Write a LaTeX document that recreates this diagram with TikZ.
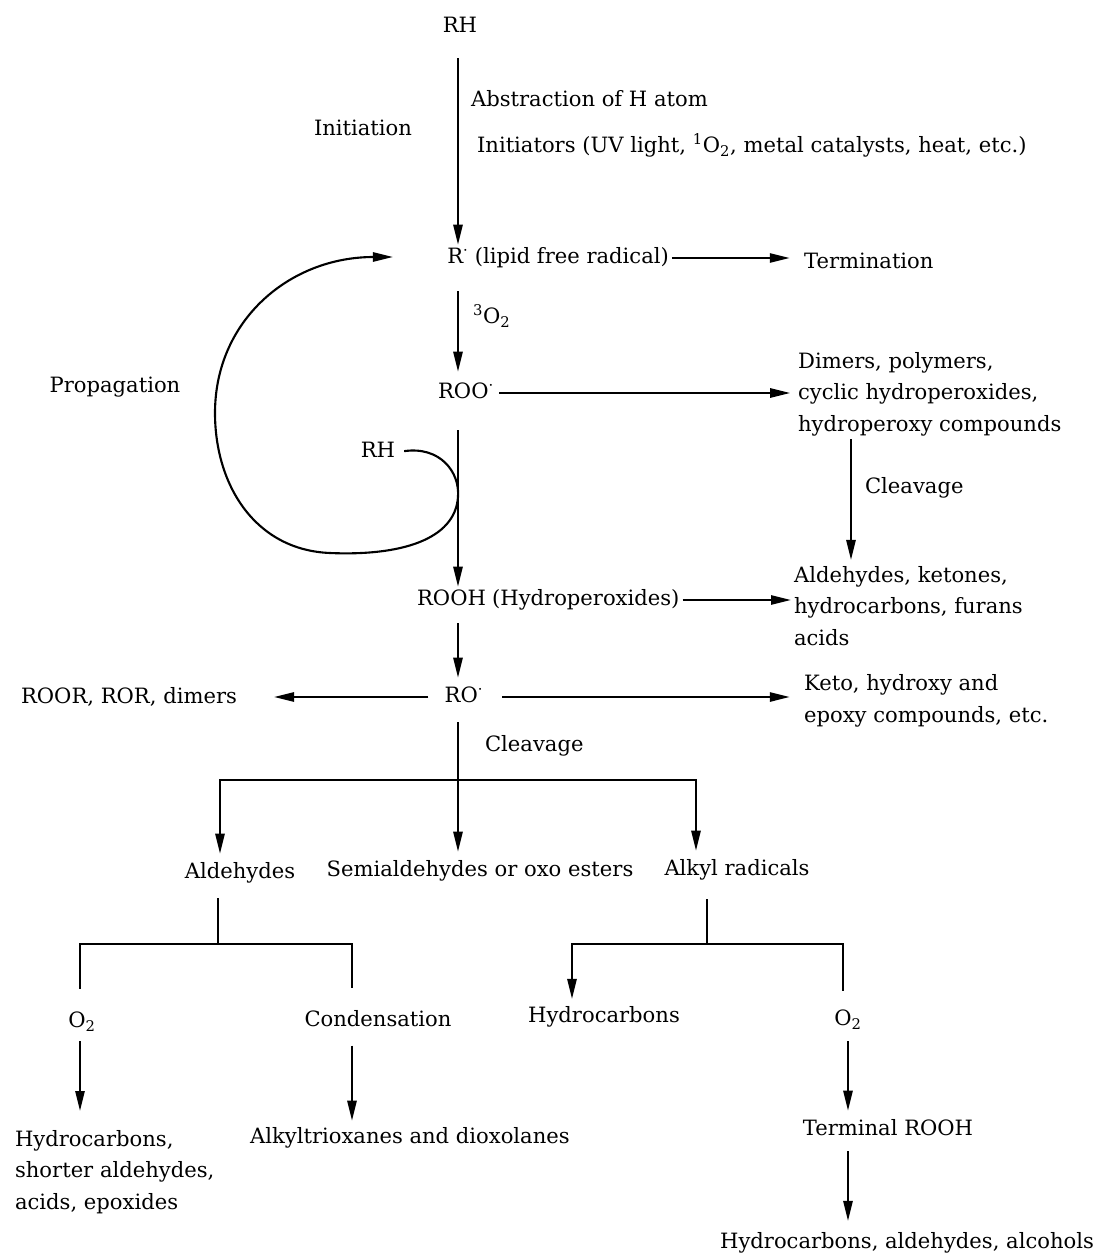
\documentclass[tikz,border=0pt]{standalone}
\usepackage{fontspec}
\setmainfont{DejaVu Serif}
\usetikzlibrary{arrows.meta,positioning,calc}

\begin{document}
\begin{tikzpicture}[
    x=0.025cm, y=-0.025cm,
    lbl/.style={font=\fontsize{15}{22.5}\selectfont, inner sep=2pt, text height=11pt, text depth=3.5pt},
    txt/.style={font=\fontsize{15}{22.5}\selectfont, inner sep=2pt, align=left},
    arrow/.style={-{Triangle[length=5mm,width=2.3mm]}, line width=1.5pt},
    twoarrow/.style={{Triangle[length=5mm,width=2.3mm]}-{Triangle[length=5mm,width=2.3mm]}, line width=1.5pt},
    branch/.style={line width=1.5pt}
]
\useasboundingbox (0,0) rectangle (1099,1258);

% Initiation
\node[lbl] (rh) at (460,27) {RH};
\node[lbl, anchor=west] (abstr) at (468,101) {Abstraction of H atom};
\node[lbl] (init) at (363,130) {Initiation};
\node[lbl, anchor=west] (initr) at (474,147) {Initiators (UV light, \textsuperscript{1}O\textsubscript{2}, metal catalysts, heat, etc.)};

% Radicals
\node[lbl] (rad) at (458,258) {R\textsuperscript{·}};
\node[lbl, right=0pt of rad] (radlbl) {(lipid free radical)};
\node[lbl, anchor=west] (term) at (801,263) {Termination};
\node[lbl, anchor=west] (otrip) at (470,318) {\textsuperscript{3}O\textsubscript{2}};
\node[lbl] (roo) at (466,393) {ROO\textsuperscript{·}};
\node[txt, anchor=west] (dimers) at (795,394) {Dimers, polymers,\\cyclic hydroperoxides,\\hydroperoxy compounds};
\node[lbl, anchor=west] (cleava) at (862,488) {Cleavage};
\node[txt, anchor=west] (ketone) at (791,606) {Aldehydes, ketones,\\hydrocarbons, furans\\acids};

% Propagation
\node[lbl] (prop) at (115,387) {Propagation};
\node[lbl] (rhb) at (378,452) {RH};

% Hydroperoxides
\node[lbl, anchor=west] (rooh) at (414,600) {ROOH};
\node[lbl, right=0pt of rooh] (roohlbl) {(Hydroperoxides)};
\node[lbl] (ro) at (464,697) {RO\textsuperscript{·}};
\node[lbl, anchor=east] (roor) at (240,698) {ROOR, ROR, dimers};
\node[txt, anchor=west] (keto) at (801,701) {Keto, hydroxy and\\epoxy compounds, etc.};
\node[lbl, anchor=west] (cleavb) at (482,746) {Cleavage};

% Cleavage products
\node[lbl] (aldh) at (240,873) {Aldehydes};
\node[lbl] (semi) at (480,871) {Semialdehydes or oxo esters};
\node[lbl] (alkyl) at (737,870) {Alkyl radicals};
\node[lbl] (otwoa) at (82,1022) {O\textsubscript{2}};
\node[lbl] (cond) at (378,1021) {Condensation};
\node[lbl] (hcb) at (604,1017) {Hydrocarbons};
\node[lbl] (otwob) at (848,1020) {O\textsubscript{2}};
\node[txt, anchor=west] (short) at (12,1172) {Hydrocarbons,\\shorter aldehydes,\\acids, epoxides};
\node[lbl, anchor=west] (triox) at (247,1138) {Alkyltrioxanes and dioxolanes};
\node[lbl] (trooh) at (888,1130) {Terminal ROOH};
\node[lbl, anchor=east] (final) at (1097,1243) {Hydrocarbons, aldehydes, alcohols};

% Junctions
\coordinate (cleavx) at (851,0);
\coordinate (barL) at (220,780);
\coordinate (barR) at (696,780);
\coordinate (aldstem) at (218,944);
\coordinate (aldL) at (80,944);
\coordinate (aldR) at (352,944);
\coordinate (alkstem) at (707,944);
\coordinate (alkL) at (572,944);
\coordinate (alkR) at (843,944);
\coordinate (tangent) at (458,497);
\coordinate (propend) at (393,257);

% Main chain
\draw[arrow, shorten <=0.45cm] (rh.south -| rad) -- (rad);
\draw[arrow, shorten <=0.5cm, shorten >=0.2cm] (rad) -- (rad |- roo.north);
\draw[arrow, shorten <=0.6cm] (roo.south -| rad) -- (rooh.north -| rad);
\draw[arrow, shorten <=0.25cm, shorten >=0.15cm] (rooh.south -| rad) -- (ro.north -| rad);
\draw[arrow, shorten <=0.3cm, shorten >=0.15cm] (ro.south -| rad) -- (semi.north -| rad);

% Side products
\draw[arrow, shorten >=0.28cm] (radlbl.east) -- (radlbl.east -| term.west);
\draw[arrow, shorten <=0.05cm, shorten >=0.12cm] (roo.east) -- (roo.east -| dimers.west);
\draw[arrow] (roohlbl.east) -- (roohlbl.east -| ketone.west);
\draw[arrow, shorten <=0.33cm, shorten >=0.85cm] (ro.west) -- (ro.west -| roor.east);
\draw[arrow, shorten <=0.4cm, shorten >=0.28cm] (ro.east) -- (ro.east -| keto.west);
\draw[arrow, shorten >=0.08cm] (dimers.south -| cleavx) -- (ketone.north -| cleavx);

% Propagation loop
\draw[arrow, shorten <=0.15cm] (rhb.east) .. controls (440,446) and (460,472) .. (tangent)
    .. controls (455,540) and (400,556) .. (330,553)
    .. controls (255,550) and (215,485) .. (215,413)
    .. controls (215,320) and (290,257) .. (propend);

% Cleavage branches
\draw[twoarrow, shorten <=0.15cm, shorten >=0.15cm] (barL |- aldh.north) -- (barL) -- (barR) -- (barR |- alkyl.north);
\draw[branch, shorten <=0.3cm] (aldh.south -| aldstem) -- (aldstem);
\draw[branch, shorten <=0.5cm, shorten >=0.5cm] (otwoa.north -| aldL) -- (aldL) -- (aldR) -- (cond.north -| aldR);
\draw[branch, shorten <=0.4cm] (alkyl.south -| alkstem) -- (alkstem);
\draw[arrow, shorten <=0.4cm, shorten >=0.12cm] (otwob.north -| alkR) -- (alkR) -- (alkL) -- (alkL |- hcb.north);

% Final products
\draw[arrow, shorten <=0.15cm, shorten >=0.4cm] (otwoa.south -| aldL) -- (short.north -| aldL);
\draw[arrow, shorten <=0.28cm, shorten >=0.1cm] (cond.south -| aldR) -- (triox.north -| aldR);
\draw[arrow, shorten <=0.2cm, shorten >=0.15cm] (otwob.south) -- (otwob.south |- trooh.north);
\draw[arrow, shorten <=0.2cm, shorten >=0.22cm] (trooh.south -| otwob) -- (final.north -| otwob);

\end{tikzpicture}
\end{document}
